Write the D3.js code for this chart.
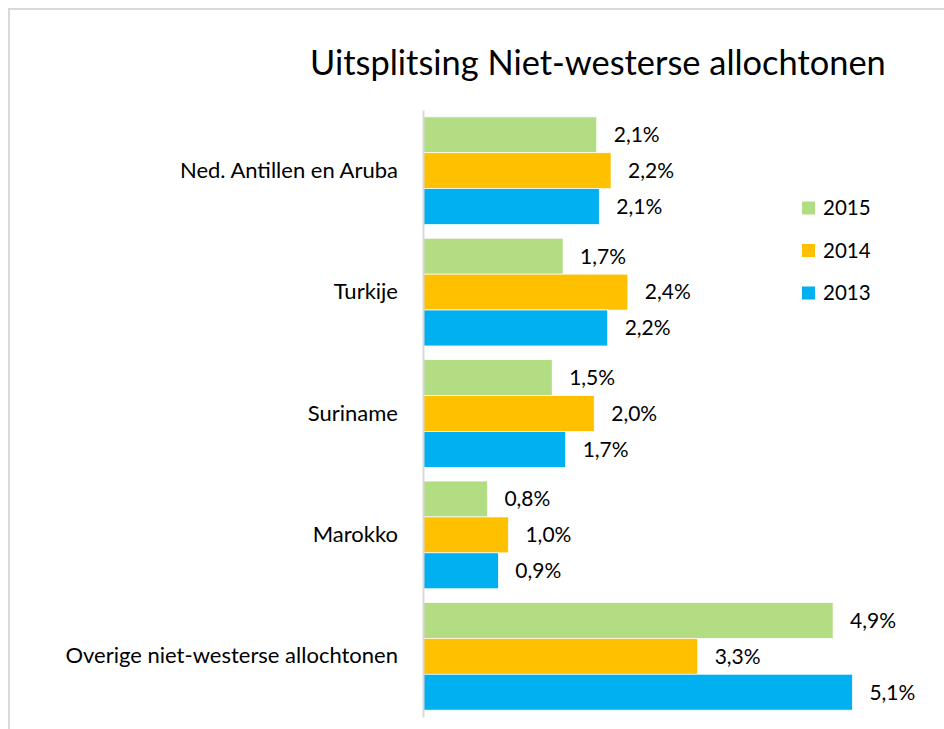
<!DOCTYPE html>
<html>
<head>
<meta charset="utf-8">
<script src="https://cdn.jsdelivr.net/npm/d3@7"></script>
<style>
  body { margin: 0; background: #fff; }
  svg { display: block; font-family: Lato, "Open Sans", sans-serif; }
</style>
</head>
<body>
<div id="app"></div>
<script>
const categories = [
  "Ned. Antillen en Aruba",
  "Turkije",
  "Suriname",
  "Marokko",
  "Overige niet-westerse allochtonen",
];
const years = ["2015", "2014", "2013"];
const values2015 = [2.06, 1.66, 1.53, 0.76, 4.87];
const values2014 = [2.23, 2.43, 2.03, 1.01, 3.26];
const values2013 = [2.09, 2.19, 1.69, 0.89, 5.1];
const colors = ["#b2dd83", "#ffc000", "#00b0f0"];

const width = 944;
const height = 729;

const rows = categories.map((c, i) => ({
  cat: c,
  vals: [values2015[i], values2014[i], values2013[i]],
}));

const svg = d3
  .create("svg")
  .attr("width", width)
  .attr("height", height);

// chart frame (runs off the right and bottom edge)
svg
  .append("rect")
  .attr("x", 9)
  .attr("y", 9)
  .attr("width", 980)
  .attr("height", 780)
  .attr("fill", "#fff")
  .attr("stroke", "#d9d9d9")
  .attr("stroke-width", 2);

svg
  .append("text")
  .attr("x", 310)
  .attr("y", 75)
  .attr("font-size", 34.4)
  .attr("fill", "#000")
  .text("Uitsplitsing Niet-westerse allochtonen");

const x0 = 423.5;
const x = d3.scaleLinear().domain([0, 6]).range([x0, x0 + 6 * 84.1]);

const y = d3
  .scaleBand()
  .domain(categories)
  .range([110, 717])
  .paddingInner(0.113)
  .paddingOuter(0.0565);

const yInner = d3
  .scaleBand()
  .domain(years)
  .range([0, y.bandwidth()]);

const fmt = (v) => d3.format(".1f")(v).replace(".", ",") + "%";

const groups = svg
  .selectAll("g.cat")
  .data(rows)
  .join("g")
  .attr("class", "cat")
  .attr("transform", (d) => `translate(0,${y(d.cat)})`);

groups
  .selectAll("rect")
  .data((d) => d.vals)
  .join("rect")
  .attr("x", x(0))
  .attr("y", (v, j) => yInner(years[j]))
  .attr("width", (v) => x(v) - x(0))
  .attr("height", yInner.bandwidth())
  .attr("fill", (v, j) => colors[j])
  .attr("stroke", "#fff")
  .attr("stroke-width", 0.7);

groups
  .selectAll("text")
  .data((d) => d.vals)
  .join("text")
  .attr("x", (v) => x(v) + 17)
  .attr("y", (v, j) => yInner(years[j]) + yInner.bandwidth() / 2)
  .attr("dy", "0.35em")
  .attr("font-size", 21)
  .attr("fill", "#000")
  .text(fmt);

const axis = svg
  .append("g")
  .attr("transform", "translate(423,0)")
  .call(d3.axisLeft(y).tickSize(0).tickSizeOuter(0).tickPadding(25));

axis.select(".domain").attr("stroke", "#d9d9d9").attr("stroke-width", 2);
axis
  .selectAll(".tick text")
  .attr("font-size", 22)
  .attr("font-family", "Lato, 'Open Sans', sans-serif")
  .attr("fill", "#000");

// legend
const legend = svg
  .selectAll("g.legend")
  .data(years)
  .join("g")
  .attr("class", "legend")
  .attr("transform", (d, i) => `translate(802,${208 + i * 42.5})`);

legend
  .append("rect")
  .attr("x", 0)
  .attr("y", -6.5)
  .attr("width", 13)
  .attr("height", 13)
  .attr("fill", (d, i) => colors[i]);

legend
  .append("text")
  .attr("x", 21)
  .attr("dy", "0.35em")
  .attr("font-size", 20.5)
  .attr("fill", "#000")
  .text((d) => d);

document.getElementById("app").append(svg.node());
</script>
</body>
</html>
